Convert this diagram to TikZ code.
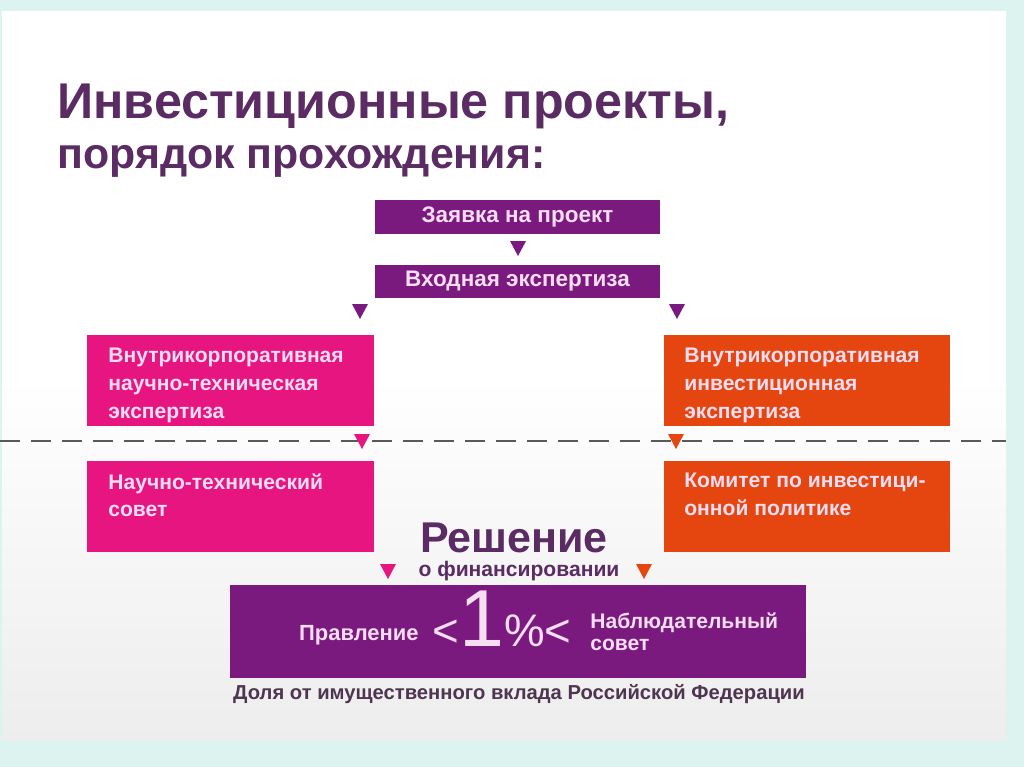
\documentclass[tikz,border=0pt]{standalone}
\usepackage{fontspec}
\setmainfont{Liberation Sans}
\usetikzlibrary{positioning}
\definecolor{frame}{HTML}{DDF3EF}
\definecolor{purp}{HTML}{7A1A7E}
\definecolor{mag}{HTML}{E6157F}
\definecolor{org}{HTML}{E5460F}
\definecolor{ttl}{HTML}{5B2B63}
\definecolor{txt}{HTML}{F6DDF2}
\definecolor{bglow}{HTML}{EDEDED}
\definecolor{captc}{HTML}{4E3550}
\newcommand{\dtri}[3]{\fill[#3] (#1-8,#2) -- (#1+8,#2) -- (#1,#2+15) -- cycle;}
\begin{document}
\begin{tikzpicture}[x=0.02cm,y=-0.02cm,
  box/.style={draw=none,inner sep=0pt,outer sep=0pt},
  btxt/.style={text=txt,font=\bfseries\fontsize{12}{15.8}\selectfont,align=left,inner sep=0pt,anchor=north west},
  ctxt/.style={text=txt,font=\bfseries\fontsize{12.8}{14}\selectfont,inner sep=0pt}]
\useasboundingbox (0,0) rectangle (1024,767);
\fill[frame] (0,0) rectangle (1024,767);
\shade[top color=white,bottom color=bglow,middle color=white] (2,12) rectangle (1006,740);
% title
\node[anchor=base west,inner sep=0pt,text=ttl,font=\bfseries\fontsize{28.6}{30}\selectfont] (t1) at (57,118) {Инвестиционные проекты,};
\node[anchor=base west,inner sep=0pt,text=ttl,font=\bfseries\fontsize{24.4}{26}\selectfont] (t2) at (57,168) {порядок прохождения:};
% top boxes
\fill[purp] (375,200) rectangle (660,234);
\node[box] (zay) at (517.5,217) {};
\node[ctxt] at (zay) {Заявка на проект};
\dtri{518}{241}{purp}
\fill[purp] (375,265) rectangle (660,298);
\node[box] (vx) at (517.5,281.5) {};
\node[ctxt] at (vx) {Входная экспертиза};
\dtri{360}{304}{purp}
\dtri{677}{304}{purp}
% upper row
\fill[mag] (87,335) rectangle (374,426);
\node[btxt] (l1) at (108,348) {Внутрикорпоративная\\научно-техническая\\экспертиза};
\fill[org] (664,335) rectangle (950,426);
\node[btxt] (r1) at (684,348) {Внутрикорпоративная\\инвестиционная\\экспертиза};
% dashed line
\draw[draw=black!65,line width=1.6pt,dash pattern=on 0.4cm off 0.22cm] (0,441) -- (1006,441);
\dtri{362}{434}{mag}
\dtri{676}{434}{org}
\fill[mag] (87,461) rectangle (374,552);
\node[btxt] (l2) at (108,473) {Научно-технический\\совет};
\fill[org] (664,461) rectangle (950,552);
\node[btxt] (r2) at (684,473) {Комитет по инвестици-\\онной политике};
% decision
\node[anchor=base,inner sep=0pt,text=ttl,font=\bfseries\fontsize{24.5}{26}\selectfont] (res) at (514,552) {Решение};
\node[anchor=base,inner sep=0pt,text=ttl,font=\bfseries\fontsize{12}{13}\selectfont] (fin) at (519,576) {о финансировании};
\dtri{388}{564}{mag}
\dtri{644}{564}{org}
% bottom box
\fill[purp] (230,585) rectangle (806,678);
\node[anchor=base east,inner sep=0pt,text=txt,font=\bfseries\fontsize{12.5}{14}\selectfont] (pr) at (419,640) {Правление};
\node[anchor=base,inner sep=0pt,text=txt,font=\fontsize{26}{26}\selectfont] (pct) at (502,646) {<{\fontsize{46}{46}\selectfont 1}\%<};
\node[anchor=base west,inner sep=0pt,text=txt,font=\bfseries\fontsize{12}{13}\selectfont] (nab1) at (590,628) {Наблюдательный};
\node[anchor=base west,inner sep=0pt,text=txt,font=\bfseries\fontsize{12}{13}\selectfont] (nab2) at (590,650) {совет};
\node[anchor=base,inner sep=0pt,text=captc,font=\bfseries\fontsize{11.5}{13}\selectfont] (cap) at (519,699) {Доля от имущественного вклада Российской Федерации};
\end{tikzpicture}
\end{document}
